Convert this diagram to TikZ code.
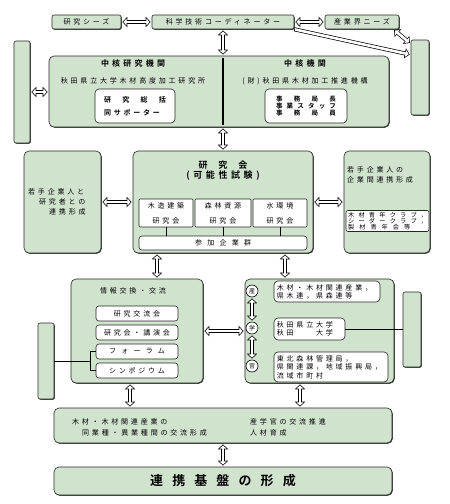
\documentclass[tikz,border=0pt]{standalone}
\usepackage{fontspec}
\newfontfamily\jp{Noto Sans CJK JP}[LetterSpace=40, BoldFont={Noto Sans CJK JP Bold}]
\newfontfamily\jpw{Noto Sans CJK JP}[LetterSpace=75]
\usetikzlibrary{arrows.meta,shadows,calc}
\definecolor{gfill}{RGB}{207,227,205}
\tikzset{
  gbox/.style={draw=black!85, line width=0.6pt, fill=gfill, rounded corners=4pt, inner sep=0pt,
    drop shadow={shadow xshift=0.8pt, shadow yshift=-0.8pt, fill=black!75, opacity=1},
    font=\jp\fontsize{7}{9}\selectfont},
  wbox/.style={draw=black!85, line width=0.6pt, fill=white, rounded corners=3pt, inner sep=0pt,
    font=\jp\fontsize{7}{9}\selectfont},
  txt/.style={inner sep=0pt, font=\jp\fontsize{7}{9}\selectfont},
  tiny/.style={inner sep=0pt, anchor=west, font=\jp\fontsize{6.2}{6.2}\selectfont},
  ttl/.style={inner sep=0pt, font=\jp\bfseries\fontsize{8}{10}\selectfont},
  circ/.style={circle, draw=black, line width=0.6pt, fill=white, minimum size=12pt, inner sep=0pt,
    font=\jp\fontsize{6}{6}\selectfont},
  conn/.style={draw=black, line width=0.6pt},
  dar/.style={draw=black, line width=4pt,
    arrows={Triangle[length=5pt,width=10pt]-Triangle[length=5pt,width=10pt]},
    shorten <=1pt, shorten >=1pt,
    postaction={draw=white, line width=2.6pt,
      arrows={Triangle[length=3.3pt,width=6.6pt]-Triangle[length=3.3pt,width=6.6pt]},
      shorten <=2pt, shorten >=2pt}},
  sar/.style={draw=black, line width=4pt,
    arrows={-Triangle[length=5pt,width=10pt]},
    shorten <=0pt, shorten >=1pt,
    postaction={draw=white, line width=2.6pt,
      arrows={-Triangle[length=3.3pt,width=6.6pt]},
      shorten <=0.7pt, shorten >=2pt}},
}
\begin{document}
\begin{tikzpicture}[x=1pt,y=-1pt]
\useasboundingbox (0,0) rectangle (450,504);

% ---- top row
\node[gbox, rounded corners=2pt, minimum width=69pt, minimum height=14pt] (seeds) at (86.5,22) {研究シーズ};
\node[gbox, rounded corners=2pt, minimum width=142pt, minimum height=14pt] (coord) at (223,22) {科学技術コーディネーター};
\node[gbox, rounded corners=2pt, minimum width=74pt, minimum height=14pt] (needs) at (362,22) {産業界ニーズ};

\node[gbox, rounded corners=2pt, minimum width=16pt, minimum height=102pt] (L1) at (22,92) {};
\node[gbox, rounded corners=2pt, minimum width=18pt, minimum height=75pt] (R1) at (420,77.5) {};

% ---- core institutions
\node[gbox, rounded corners=5pt, minimum width=340pt, minimum height=71pt] (core) at (219,91.5) {};
\draw[line width=1.3pt] ([xshift=4pt,yshift=-2pt]core.north) -- ([xshift=4pt,yshift=2pt]core.south);
\node[ttl] (coreT1) at (133,63) {中核研究機関};
\node[txt] (coreU) at (133,81) {秋田県立大学木材高度加工研究所};
\node[wbox, rounded corners=4pt, minimum width=80pt, minimum height=34pt] (innA) at (135,106) {};
\node[txt, align=left, font=\jp\bfseries\fontsize{7}{13}\selectfont] (innAT) at (innA)
  {\makebox[62pt][s]{研\hfill 究\hfill 総\hfill 括}\\同サポーター};
\node[ttl] (coreT2) at (305,63) {中核機関};
\node[txt] (coreK) at (305,81) {(財)秋田県木材加工推進機構};
\node[wbox, rounded corners=4pt, minimum width=82pt, minimum height=34pt] (innB) at (306,106) {};
\node[txt, align=center, font=\jp\bfseries\fontsize{6.5}{7}\selectfont] (innBT) at (innB)
  {\makebox[60pt][s]{事\hfill 務\hfill 局\hfill 長}\\\makebox[60pt][s]{事\hfill 業\hfill ス\hfill タ\hfill ッ\hfill フ}\\\makebox[60pt][s]{事\hfill 務\hfill 局\hfill 員}};

% ---- middle row
\node[gbox, rounded corners=5pt, minimum width=77pt, minimum height=102pt] (Lm) at (62.5,202) {};
\node[txt, align=left, anchor=north west, font=\jp\fontsize{7}{10}\selectfont] (LmT) at (28,188)
  {若手企業人と\\\hspace*{11pt}研究者との\\\hspace*{21pt}連携形成};

\node[gbox, rounded corners=5pt, minimum width=180pt, minimum height=102pt] (Cm) at (223,202) {};
\node[txt, font=\jp\bfseries\fontsize{9}{10}\selectfont] (CmT1) at (223,165) {研\hspace{11pt}究\hspace{11pt}会};
\node[txt, font=\jp\bfseries\fontsize{9}{10}\selectfont] (CmT2) at (223,176) {(可能性試験)};
\node[wbox, rounded corners=1pt, minimum width=54pt, minimum height=28pt, align=center, font=\jp\fontsize{7}{15}\selectfont] (s1) at (166,213) {木造建築\\研究会};
\node[wbox, rounded corners=1pt, minimum width=56pt, minimum height=28pt, align=center, font=\jp\fontsize{7}{15}\selectfont] (s2) at (223,213) {森林資源\\研究会};
\node[wbox, rounded corners=1pt, minimum width=54pt, minimum height=28pt, align=center, font=\jp\fontsize{7}{15}\selectfont] (s3) at (280,213) {水環境\\研究会};
\node[wbox, rounded corners=3pt, minimum width=168pt, minimum height=14pt, font=\jpw\fontsize{7}{9}\selectfont] (part) at (223,243) {参加企業群};
\draw[conn] (s1.south) -- (s1.south |- part.north);
\draw[conn] (s2.south) -- (s2.south |- part.north);
\draw[conn] (s3.south) -- (s3.south |- part.north);

\node[gbox, rounded corners=5pt, minimum width=86pt, minimum height=102pt] (Rm) at (387,202) {};
\node[txt, align=left, anchor=north west, font=\jp\fontsize{7}{10}\selectfont] (RmT) at (347,166)
  {若手企業人の\\企業間連携形成};
\node[wbox, rounded corners=2pt, minimum width=83pt, minimum height=21pt] (RmI) at (387.5,221) {};
\node[tiny] (RmL1) at (348,215.5) {\makebox[79pt][s]{木\hfill 材\hfill 青\hfill 年\hfill ク\hfill ラ\hfill ブ\hfill ，}};
\node[tiny] (RmL2) at (348,221.5) {\makebox[79pt][s]{シ\hfill ー\hfill ダ\hfill ー\hfill ク\hfill ラ\hfill ブ\hfill ，}};
\node[tiny] (RmL3) at (348,227.5) {\makebox[62pt][s]{製\hfill 材\hfill 青\hfill 年\hfill 会\hfill 等}};

% ---- lower row
\node[gbox, rounded corners=5pt, minimum width=132pt, minimum height=104pt] (info) at (137,331) {};
\node[txt] (infoT) at (133,291) {情報交換・交流};
\node[wbox, minimum width=82pt, minimum height=15pt] (i1) at (137,313.5) {研究交流会};
\node[wbox, minimum width=82pt, minimum height=15pt] (i2) at (137,332.5) {研究会・講演会};
\node[wbox, minimum width=82pt, minimum height=15pt, font=\jpw\fontsize{7}{9}\selectfont] (i3) at (137,351.5) {フォーラム};
\node[wbox, minimum width=82pt, minimum height=15pt] (i4) at (137,370.5) {シンポジウム};

\node[gbox, rounded corners=5pt, minimum width=149pt, minimum height=104pt] (sgk) at (319.5,331) {};
\node[circ] (c1) at (252,291) {産};
\node[circ] (c2) at (252,328) {学};
\node[circ] (c3) at (252,366) {官};
\node[wbox, rounded corners=4pt, minimum width=106pt, minimum height=21pt] (b1) at (327,291.5) {};
\node[txt, align=left, anchor=west, font=\jp\fontsize{7}{8}\selectfont] (b1T) at ([xshift=3pt]b1.west)
  {木材・木材関連産業，\\県木連，県森連等};
\node[wbox, rounded corners=4pt, minimum width=71pt, minimum height=22pt] (b2) at (309.5,329) {};
\node[txt, align=left, anchor=west, font=\jp\fontsize{7}{8}\selectfont] (b2T) at ([xshift=3pt]b2.west)
  {秋田県立大学\\秋田　　大学};
\node[wbox, rounded corners=4pt, minimum width=114pt, minimum height=30pt] (b3) at (331,367) {};
\node[txt, align=left, anchor=west, font=\jp\fontsize{7}{8.5}\selectfont] (b3T) at ([xshift=3pt]b3.west)
  {東北森林管理局，\\県関連課，地域振興局，\\流域市町村};

\node[gbox, rounded corners=2pt, minimum width=16pt, minimum height=76pt] (L2) at (46,361) {};
\node[gbox, rounded corners=2pt, minimum width=18pt, minimum height=75pt] (R2) at (412,329.5) {};

\coordinate (br) at ($(i3.west)!0.5!(i4.west)+(-5,0)$);
\draw[conn] (i3.west) -| (br) |- (i4.west);
\draw[conn] (br) -- (br -| L2.east);
\draw[conn] (b2.east) -- (b2.east -| R2.west);

% ---- bottom
\node[gbox, rounded corners=5pt, minimum width=338pt, minimum height=35pt] (bot1) at (223,425.5) {};
\node[txt, align=left, anchor=west, font=\jp\fontsize{7}{11}\selectfont] (bot1L) at (72,427.5)
  {木材・木材関連産業の\\\hspace*{10pt}同業種・異業種間の交流形成};
\node[txt, align=left, anchor=west, font=\jp\fontsize{7}{11}\selectfont] (bot1R) at (250,427.5)
  {産学官の交流推進\\人材育成};
\node[gbox, rounded corners=5pt, minimum width=338pt, minimum height=28pt,
  font=\jp\bfseries\addfontfeature{LetterSpace=70}\fontsize{13}{14}\selectfont] (bot2) at (223,481) {連携基盤の形成};

% ---- arrows
\draw[dar] (seeds.east) -- (coord.west);
\draw[dar] (coord.east) -- (needs.west);
\draw[dar] (coord.south) -- (coord.south |- core.north);
\draw[sar] (coord.south east) -- ([yshift=-15pt]R1.north west);
\draw[dar] ([xshift=-6pt]needs.south east) -- ([yshift=-4pt]R1.north west);
\draw[dar] (L1.east) -- (L1.east -| core.west);
\draw[dar] (Cm.north |- core.south) -- (Cm.north);
\draw[dar] (Lm.east) -- (Cm.west);
\draw[dar] (Cm.east) -- (Rm.west);
\draw[dar] ([xshift=-66pt]Cm.south) -- ([xshift=-66pt]Cm.south |- info.north);
\draw[dar] ([xshift=62pt]Cm.south) -- ([xshift=62pt]Cm.south |- sgk.north);
\draw[dar] (info.east) -- (info.east -| sgk.west);
\draw[dar] (c1) -- (c2);
\draw[dar] (c2) -- (c3);
\draw[dar] ([xshift=-7pt]info.south) -- ([xshift=-7pt]info.south |- bot1.north);
\draw[dar] ([xshift=-19.5pt]sgk.south) -- ([xshift=-19.5pt]sgk.south |- bot1.north);
\draw[dar] (bot1.south) -- (bot2.north);
\end{tikzpicture}
\end{document}
